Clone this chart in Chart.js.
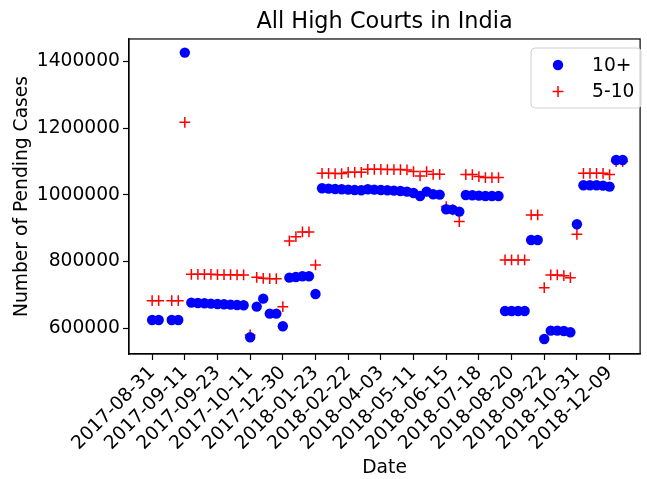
<!DOCTYPE html>
<html>
<head>
<meta charset="utf-8">
<script src="https://cdn.jsdelivr.net/npm/chart.js@4"></script>
<style>
  html, body { margin: 0; padding: 0; background: #fff; }
  #wrap { width: 647px; height: 479px; }
</style>
</head>
<body>
<div id="wrap"><canvas id="courtsChart" width="647" height="479"></canvas></div>
<script>
// tick labels, one every 5 categories
const tickLabels = ['2017-08-31', '2017-09-11', '2017-09-23', '2017-10-11', '2017-12-30',
    '2018-01-23', '2018-02-22', '2018-04-03', '2018-05-11', '2018-06-15',
    '2018-07-18', '2018-08-20', '2018-09-22', '2018-10-31', '2018-12-09'];
const yTicks = [600000, 800000, 1000000, 1200000, 1400000];

// pending cases, 10+ years
const over10 = [
    625000, 625000, null, 625000, 625000, 1427000, 677000, 676000, 675000, 674000,
    673000, 672000, 671000, 670000, 669000, 573000, 665000, 689000, 644000, 644000,
    606000, 752000, 754000, 756000, 756000, 703000, 1020000, 1019000, 1018000, 1017000,
    1016000, 1015000, 1014000, 1017000, 1016000, 1015000, 1014000, 1013000, 1012000, 1010000,
    1006000, 997000, 1010000, 1002000, 1001000, 957000, 956000, 950000, 1000000, 999000,
    998000, 997000, 997000, 997000, 652000, 652000, 652000, 652000, 865000, 865000,
    568000, 593000, 593000, 592000, 588000, 912000, 1029000, 1029000, 1029000, 1028000,
    1025000, 1105000, 1105000
];
// pending cases, 5-10 years
const from5to10 = [
    683000, 683000, null, 683000, 683000, 1218000, 762000, 762000, 762000, 762000,
    761000, 761000, 761000, 760000, 760000, 580000, 753000, 750000, 749000, 749000,
    665000, 862000, 875000, 889000, 889000, 790000, 1065000, 1065000, 1064000, 1064000,
    1068000, 1068000, 1068000, 1077000, 1077000, 1077000, 1076000, 1076000, 1076000, 1075000,
    1070000, 1057000, 1070000, 1062000, 1062000, 965000, 955000, 920000, 1061000, 1061000,
    1055000, 1052000, 1052000, 1052000, 805000, 805000, 805000, 805000, 940000, 940000,
    722000, 760000, 760000, 758000, 752000, 882000, 1065000, 1065000, 1065000, 1065000,
    1061000, 1100000, 1100000
];

const FONT = 'DejaVu Sans';
const FS = 18.7;

function toPoints(arr) {
    const pts = [];
    arr.forEach(function(v, i) { if (v !== null) pts.push({ x: i, y: v }); });
    return pts;
}

// box around plot area + legend drawn inside the plot
const framePlugin = {
    id: 'frame',
    afterDraw: function(chart) {
        const ctx = chart.ctx;
        const a = chart.chartArea;
        ctx.save();
        ctx.strokeStyle = '#000';
        ctx.lineWidth = 1.2;
        ctx.strokeRect(a.left, a.top, a.right - a.left, a.bottom - a.top);

        // legend
        const bx = 531, by = 48, bw = 110, bh = 60;
        ctx.beginPath();
        ctx.roundRect(bx, by, bw, bh, 4);
        ctx.fillStyle = 'rgba(255,255,255,0.8)';
        ctx.fill();
        ctx.strokeStyle = '#d0d0d0';
        ctx.lineWidth = 1;
        ctx.stroke();
        ctx.font = FS + 'px "' + FONT + '"';
        ctx.textBaseline = 'middle';
        ctx.textAlign = 'left';
        chart.data.datasets.forEach(function(ds, i) {
            const cy = 65 + i * 26.5;
            const cx = 558;
            if (ds.pointStyle === 'circle') {
                ctx.beginPath();
                ctx.arc(cx, cy, 5.2, 0, Math.PI * 2);
                ctx.fillStyle = ds.backgroundColor;
                ctx.fill();
            } else {
                ctx.beginPath();
                ctx.moveTo(cx - 5.4, cy); ctx.lineTo(cx + 5.4, cy);
                ctx.moveTo(cx, cy - 5.4); ctx.lineTo(cx, cy + 5.4);
                ctx.strokeStyle = ds.borderColor;
                ctx.lineWidth = 1.5;
                ctx.stroke();
            }
            ctx.fillStyle = '#000';
            ctx.fillText(ds.label, 592, cy + 1);
        });
        ctx.restore();
    }
};

new Chart(document.getElementById('courtsChart'), {
    type: 'scatter',
    data: {
        datasets: [
            {
                label: '10+',
                data: toPoints(over10),
                pointStyle: 'circle',
                pointRadius: 5.2,
                pointHoverRadius: 5.2,
                backgroundColor: '#0000ff',
                borderColor: '#0000ff',
                borderWidth: 0
            },
            {
                label: '5-10',
                data: toPoints(from5to10),
                pointStyle: 'cross',
                pointRadius: 5.4,
                pointHoverRadius: 5.4,
                backgroundColor: '#ff0000',
                borderColor: '#ff0000',
                borderWidth: 1.5
            }
        ]
    },
    options: {
        responsive: false,
        animation: false,
        layout: { padding: { left: 0, right: 3, top: 0, bottom: 0 } },
        plugins: {
            legend: { display: false },
            tooltip: { enabled: false },
            title: {
                display: true,
                text: 'All High Courts in India',
                fullSize: false,
                color: '#000',
                font: { family: FONT, size: 22.4, weight: 'normal' },
                padding: { top: 9, bottom: 3.1 }
            }
        },
        scales: {
            x: {
                type: 'linear',
                min: -3.54,
                max: 74.67,
                afterBuildTicks: function(scale) {
                    scale.ticks = tickLabels.map(function(_, i) { return { value: i * 5 }; });
                },
                afterFit: function(scale) { scale.height = 125; },
                ticks: {
                    color: '#000',
                    font: { family: FONT, size: FS },
                    minRotation: 45,
                    maxRotation: 45,
                    autoSkip: false,
                    padding: 2,
                    callback: function(value) { return tickLabels[Math.round(value / 5)]; }
                },
                grid: { drawOnChartArea: false, tickLength: 6, color: '#000', tickWidth: 1.2 },
                border: { display: true, color: '#000', width: 1.2 },
                title: {
                    display: true,
                    text: 'Date',
                    color: '#000',
                    font: { family: FONT, size: FS },
                    padding: { top: 4, bottom: 0 }
                }
            },
            y: {
                min: 522900,
                max: 1467900,
                afterBuildTicks: function(scale) {
                    scale.ticks = yTicks.map(function(v) { return { value: v }; });
                },
                afterFit: function(scale) { scale.width = 129; },
                ticks: {
                    color: '#000',
                    font: { family: FONT, size: FS },
                    padding: 3,
                    callback: function(value) { return String(value); }
                },
                grid: { drawOnChartArea: false, tickLength: 6, color: '#000', tickWidth: 1.2 },
                border: { display: true, color: '#000', width: 1.2 },
                title: {
                    display: true,
                    text: 'Number of Pending Cases',
                    color: '#000',
                    font: { family: FONT, size: FS },
                    padding: { top: 11, bottom: 4 }
                }
            }
        }
    },
    plugins: [framePlugin]
});
</script>
</body>
</html>
